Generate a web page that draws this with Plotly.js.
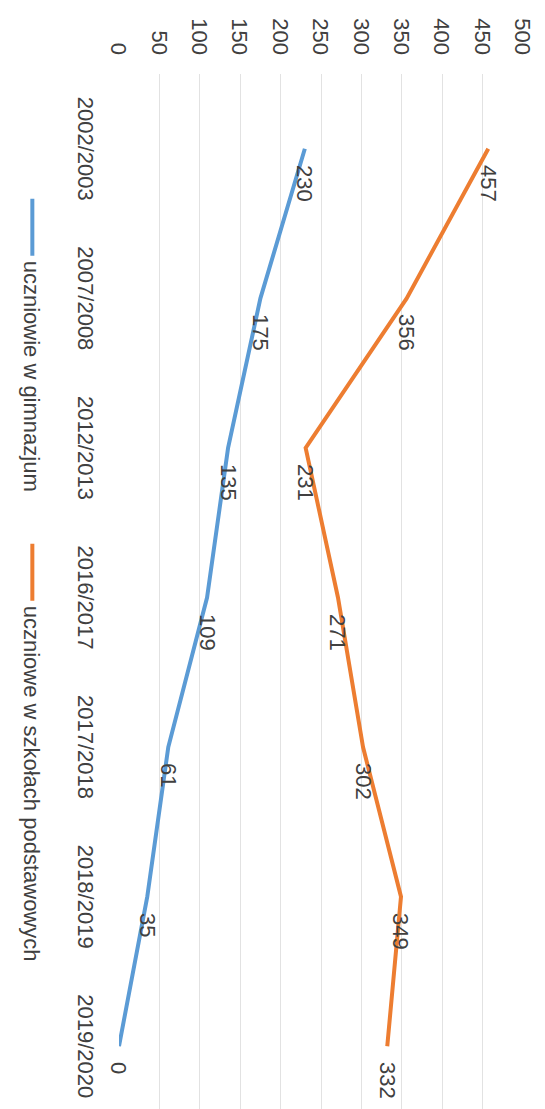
<!DOCTYPE html>
<html>
<head>
<meta charset="utf-8">
<script src="https://cdn.plot.ly/plotly-3.0.1.min.js"></script>
<style>
html, body { margin: 0; padding: 0; width: 545px; height: 1109px; overflow: hidden; background: #ffffff; }
#chart { position: absolute; left: 0; top: 0; width: 1125px; height: 545px;
  transform-origin: 0 0; transform: translateX(545px) rotate(90deg); }
</style>
</head>
<body>
<div id="chart"></div>
<script>
const categories = ["2002/2003", "2007/2008", "2012/2013", "2016/2017", "2017/2018", "2018/2019", "2019/2020"];
const gimnazjum = [230, 175, 135, 109, 61, 35, 0];
const podstawowe = [457, 356, 231, 271, 302, 349, 332];
const seriesNames = ["uczniowie w gimnazjum", "uczniowe w szkołach podstawowych"];
const valueTicks = [0, 50, 100, 150, 200, 250, 300, 350, 400, 450, 500];

const FONT = "'Liberation Sans', Arial, sans-serif";
const TXT = "#404040";
const idx = categories.map((c, i) => i);

const traces = [
  { x: idx, y: gimnazjum, name: seriesNames[0], type: "scatter", mode: "lines", legend: "legend",
    line: { color: "#5B9BD5", width: 4 } },
  { x: idx, y: podstawowe, name: seriesNames[1], type: "scatter", mode: "lines", legend: "legend2",
    line: { color: "#ED7D31", width: 4 } }
];

const annotations = [];
[gimnazjum, podstawowe].forEach(series => {
  series.forEach((v, i) => {
    annotations.push({ x: i, y: v, xref: "x", yref: "y", text: String(v), showarrow: false,
      xanchor: "left", yanchor: "middle", xshift: 14, font: { family: FONT, size: 22, color: TXT } });
  });
});

const legendBase = { orientation: "h", xanchor: "left", y: -0.215, yanchor: "middle", itemwidth: 57,
  font: { family: FONT, size: 22, color: TXT }, bgcolor: "rgba(0,0,0,0)" };

const layout = {
  width: 1125, height: 545,
  margin: { l: 74, r: 4, t: 22, b: 119 },
  paper_bgcolor: "#ffffff", plot_bgcolor: "#ffffff",
  font: { family: FONT, size: 22, color: TXT },
  showlegend: true,
  xaxis: { range: [-0.5, 6.5], tickmode: "array", tickvals: idx, ticktext: categories,
    showgrid: false, zeroline: false, showline: false, ticks: "", ticklabelstandoff: 18,
    tickfont: { family: FONT, size: 22, color: TXT } },
  yaxis: { range: [0, 500], tickmode: "array", tickvals: valueTicks, ticktext: valueTicks.map(String),
    showgrid: true, gridcolor: "#e2e2e2", gridwidth: 1, zeroline: false, showline: false, ticks: "",
    ticklabelstandoff: 18, tickfont: { family: FONT, size: 22, color: TXT } },
  legend: Object.assign({}, legendBase, { x: 0.1143 }),
  legend2: Object.assign({}, legendBase, { x: 0.4438 }),
  annotations: annotations
};

Plotly.newPlot("chart", traces, layout, { staticPlot: true, responsive: false, displayModeBar: false });
</script>
</body>
</html>
